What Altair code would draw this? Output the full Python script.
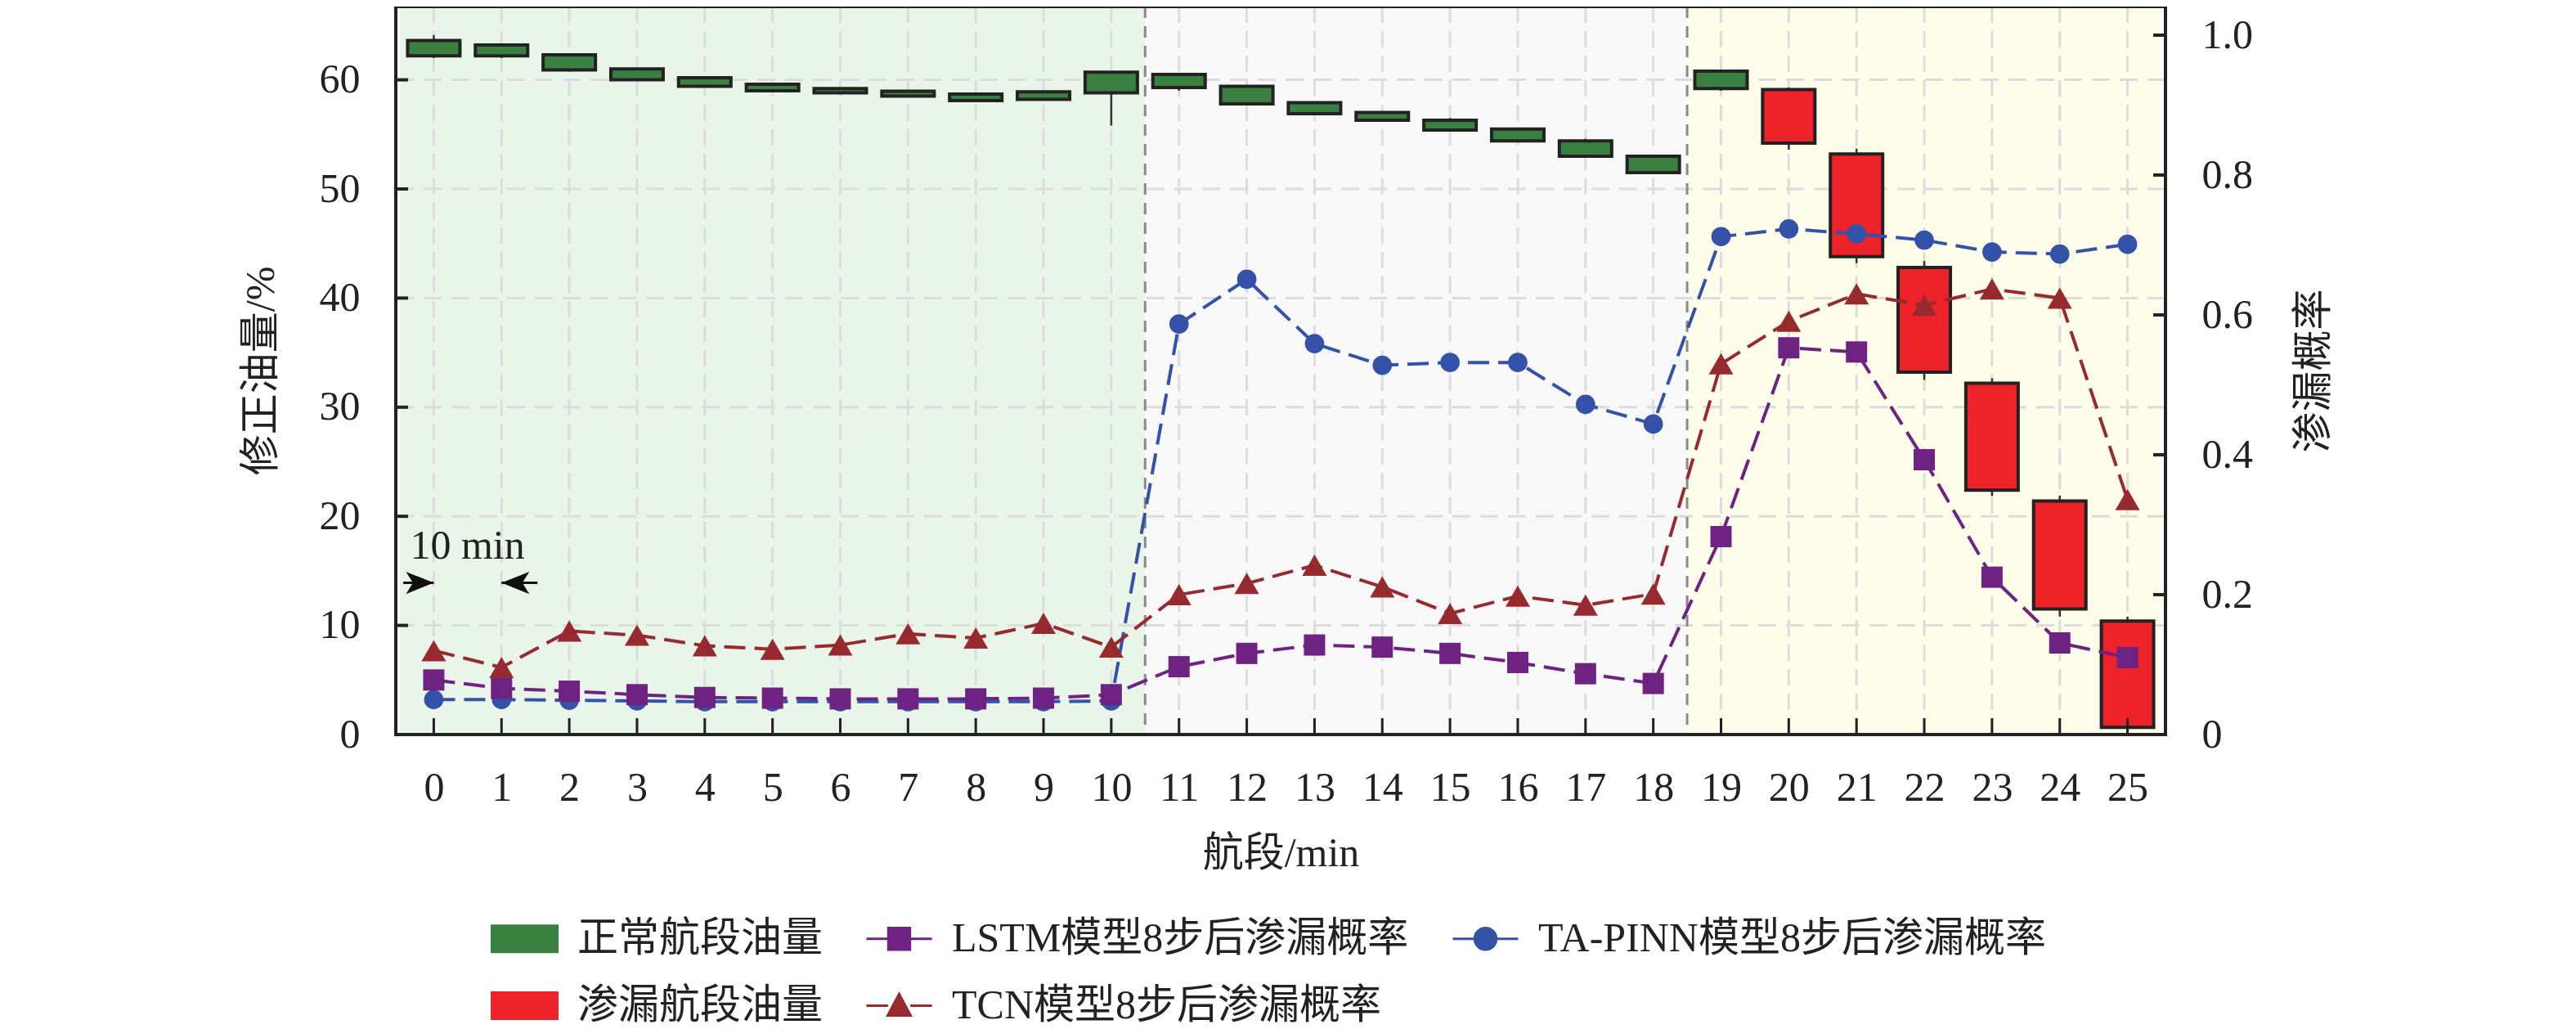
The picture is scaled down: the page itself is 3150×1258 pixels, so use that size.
import altair as alt
import pandas as pd

FONT = "Liberation Serif, Noto Sans CJK SC"
INK = "#222222"
W, H = 2164, 890

# ---- data ----
segments = list(range(26))
box_top = [63.6, 63.2, 62.3, 61.0, 60.2, 59.6, 59.2, 58.95, 58.7, 58.9, 60.7, 60.5, 59.4,
           57.9, 57.0, 56.3, 55.5, 54.4, 53.0, 60.8, 59.1, 53.2, 42.8, 32.2, 21.4, 10.4]
box_bottom = [62.2, 62.2, 60.9, 60.0, 59.4, 59.0, 58.8, 58.5, 58.1, 58.2, 58.8, 59.3, 57.8,
              56.9, 56.3, 55.4, 54.4, 53.0, 51.5, 59.2, 54.2, 43.8, 33.2, 22.4, 11.5, 0.65]
wick_high = [64.1, 63.2, 62.4, 61.0, 60.2, 59.6, 59.3, 59.05, 58.7, 59.0, 60.7, 60.5, 59.4,
             57.9, 57.1, 56.5, 55.6, 54.6, 53.1, 60.9, 59.3, 53.7, 43.4, 32.65, 21.9, 10.8]
wick_low = [62.0, 62.0, 60.75, 59.9, 59.3, 58.9, 58.8, 58.5, 58.1, 58.2, 55.8, 59.0, 57.7,
            56.8, 56.3, 55.4, 54.4, 52.9, 51.5, 59.0, 53.6, 43.2, 32.5, 21.85, 10.8, 0.0]
oil_type = ["正常航段油量"] * 20 + ["渗漏航段油量"] * 6

lstm = [0.078, 0.066, 0.062, 0.057, 0.053, 0.052, 0.051, 0.051, 0.051, 0.052, 0.057, 0.097, 0.116,
        0.128, 0.125, 0.116, 0.103, 0.087, 0.073, 0.283, 0.553, 0.547, 0.393, 0.225, 0.131, 0.110]
tcn = [0.120, 0.096, 0.148, 0.142, 0.127, 0.122, 0.128, 0.144, 0.138, 0.159, 0.125, 0.200, 0.216,
       0.242, 0.211, 0.173, 0.198, 0.185, 0.201, 0.530, 0.591, 0.630, 0.614, 0.637, 0.624, 0.336]
pinn = [0.050, 0.050, 0.049, 0.048, 0.047, 0.047, 0.047, 0.047, 0.047, 0.047, 0.048, 0.587, 0.651,
        0.559, 0.528, 0.532, 0.532, 0.472, 0.444, 0.712, 0.723, 0.716, 0.707, 0.690, 0.687, 0.701]

series_names = ["正常航段油量", "LSTM模型8步后渗漏概率", "TA-PINN模型8步后渗漏概率",
                "渗漏航段油量", "TCN模型8步后渗漏概率"]
series_colors = ["#3a8040", "#6e2382", "#3352a8", "#ee2229", "#962a2e"]
legend_shapes = [
    "M-1,-0.4L1,-0.4L1,0.4L-1,0.4Z",
    "M-1,0L-0.34,0M0.34,0L1,0M-0.33,-0.33L0.33,-0.33L0.33,0.33L-0.33,0.33Z",
    "M-1,0L-0.34,0M0.34,0L1,0M-0.33,0A0.33,0.33,0,1,0,0.33,0A0.33,0.33,0,1,0,-0.33,0Z",
    "M-1,-0.4L1,-0.4L1,0.4L-1,0.4Z",
    "M-1,0L-0.34,0M0.34,0L1,0M0,-0.36L0.35,0.3L-0.35,0.3Z",
]

region_start = [-0.5, 10.5, 18.5]
region_end = [10.5, 18.5, 25.5]
region_color = ["#e8f5e8", "#f8f8f8", "#fdfdea"]
boundaries = [10.5, 18.5]
left_ticks = [0, 10, 20, 30, 40, 50, 60]
right_ticks = [0, 0.2, 0.4, 0.6, 0.8, 1.0]

note_text = ["10 min"]
note_x, note_y = [-0.35], [16.1]
arrow_tip = [0, 1]
arrow_tail = [-0.45, 1.53]
arrow_y = [13.9, 13.9]

# ---- tables ----
candles = pd.DataFrame({"seg": segments, "top": box_top, "bottom": box_bottom,
                        "high": wick_high, "low": wick_low, "series": oil_type})
probs = pd.DataFrame({"seg": segments, "lstm": lstm, "tcn": tcn, "pinn": pinn})
regions = pd.DataFrame({"x0": region_start, "x1": region_end, "bg": region_color})
legend_rows = pd.DataFrame({"series": series_names, "seg": [0] * 5, "p": [-1] * 5})
arrows = pd.DataFrame({"tip": arrow_tip, "tail": arrow_tail, "y": arrow_y})

# ---- scales / axes ----
x_scale = alt.Scale(domain=[-0.5, 25.5], nice=False, zero=False)
yl_scale = alt.Scale(domain=[0, H / 13.34], nice=False)
yr_scale = alt.Scale(domain=[0, H / 855], nice=False)

x_axis = alt.Axis(values=segments, format="d", title="航段/min", labelPadding=40, titlePadding=30)
yl_axis = alt.Axis(values=left_ticks, title="修正油量/%", orient="left", labelPadding=44, titlePadding=46)
yr_axis = alt.Axis(values=right_ticks, title="渗漏概率", orient="right", labelPadding=44,
                   titlePadding=100, titleAngle=270,
                   labelExpr="datum.value == 0 ? '0' : format(datum.value, '.1f')")

fill_scale = alt.Scale(domain=series_names, range=series_colors)
shape_scale = alt.Scale(domain=series_names, range=legend_shapes)
legend = alt.Legend(title=None, orient="none", legendX=116, legendY=1098, columns=3,
                    direction="horizontal", symbolSize=6400, symbolStrokeWidth=3,
                    symbolOpacity=1, labelFont=FONT, labelFontSize=50, labelColor=INK,
                    labelOffset=23, columnPadding=47, rowPadding=15, labelLimit=0, padding=0)

X = alt.X("seg:Q", scale=x_scale, axis=x_axis)

# ---- left (oil) group ----
bg = alt.Chart(regions).mark_rect().encode(
    x=alt.X("x0:Q", scale=x_scale, axis=x_axis), x2="x1:Q",
    y=alt.value(0), y2=alt.value(H), color=alt.Color("bg:N", scale=None))
vgrid = alt.Chart(pd.DataFrame({"seg": segments})).mark_rule(
    color="#dcdcdc", strokeWidth=3, strokeDash=[20, 10]).encode(x=X)
hgrid = alt.Chart(pd.DataFrame({"v": left_ticks[1:]})).mark_rule(
    color="#dcdcdc", strokeWidth=3, strokeDash=[22, 12]).encode(
    y=alt.Y("v:Q", scale=yl_scale, axis=yl_axis))
bounds = alt.Chart(pd.DataFrame({"seg": boundaries})).mark_rule(
    color="#8a8a8a", strokeWidth=3, strokeDash=[14, 10]).encode(x=X)
wicks = alt.Chart(candles).mark_rule(color="#333333", strokeWidth=2.5).encode(
    x=X, y=alt.Y("low:Q", scale=yl_scale, axis=yl_axis), y2="high:Q")
boxes = alt.Chart(candles).mark_bar(size=64, stroke=INK, strokeWidth=4, opacity=1).encode(
    x=X, y=alt.Y("bottom:Q", scale=yl_scale, axis=yl_axis), y2="top:Q",
    fill=alt.Fill("series:N", scale=fill_scale, legend=legend))
note = alt.Chart(pd.DataFrame({"seg": note_x, "v": note_y, "t": note_text})).mark_text(
    align="left", baseline="alphabetic", font=FONT, fontSize=50, color=INK).encode(
    x=X, y=alt.Y("v:Q", scale=yl_scale, axis=yl_axis), text="t:N")
tails = alt.Chart(arrows).mark_rule(color="#111111", strokeWidth=3).encode(
    x=alt.X("tip:Q", scale=x_scale, axis=x_axis), x2="tail:Q",
    y=alt.Y("y:Q", scale=yl_scale, axis=yl_axis))
head_r = alt.Chart(arrows.iloc[[0]]).mark_point(
    shape="M0,0L-1,-0.4L-0.75,0L-1,0.4Z", size=4624, filled=True, opacity=1, color="#111111").encode(
    x=alt.X("tip:Q", scale=x_scale, axis=x_axis), y=alt.Y("y:Q", scale=yl_scale, axis=yl_axis))
head_l = alt.Chart(arrows.iloc[[1]]).mark_point(
    shape="M0,0L1,-0.4L0.75,0L1,0.4Z", size=4624, filled=True, opacity=1, color="#111111").encode(
    x=alt.X("tip:Q", scale=x_scale, axis=x_axis), y=alt.Y("y:Q", scale=yl_scale, axis=yl_axis))
lticks = alt.Chart(pd.DataFrame({"v": left_ticks})).mark_rule(color=INK, strokeWidth=4).encode(
    y=alt.Y("v:Q", scale=yl_scale, axis=yl_axis), x=alt.value(0), x2=alt.value(15))
bticks = alt.Chart(pd.DataFrame({"seg": segments})).mark_rule(color=INK, strokeWidth=3).encode(
    x=X, y=alt.value(H - 20), y2=alt.value(H))

left = alt.layer(bg, vgrid, hgrid, bounds, wicks, boxes, note, tails, head_r, head_l, lticks, bticks)


# ---- right (probability) group ----
def series(col, color, shape, size):
    y = alt.Y(f"{col}:Q", scale=yr_scale, axis=yr_axis)
    line = alt.Chart(probs).mark_line(color=color, strokeWidth=4, strokeDash=[26, 11]).encode(x=X, y=y)
    pts = alt.Chart(probs).mark_point(shape=shape, size=size, filled=True, opacity=1, color=color).encode(x=X, y=y)
    return [line, pts]


dummy = alt.Chart(legend_rows).mark_point(filled=True, opacity=1, clip=True, size=10).encode(
    x=X, y=alt.Y("p:Q", scale=yr_scale, axis=yr_axis),
    fill=alt.Fill("series:N", scale=fill_scale, legend=legend),
    stroke=alt.Stroke("series:N", scale=fill_scale, legend=legend),
    shape=alt.Shape("series:N", scale=shape_scale, legend=legend))
rticks = alt.Chart(pd.DataFrame({"p": right_ticks})).mark_rule(color=INK, strokeWidth=4).encode(
    y=alt.Y("p:Q", scale=yr_scale, axis=yr_axis), x=alt.value(W - 15), x2=alt.value(W))
frame = alt.Chart(pd.DataFrame({"p": [0]})).mark_rect(
    fillOpacity=0, stroke=INK, strokeWidth=4).encode(
    x=alt.value(0), x2=alt.value(W), y=alt.value(0), y2=alt.value(H))

right = alt.layer(
    *series("pinn", "#3352a8", "circle", 560),
    *series("tcn", "#962a2e", "triangle-up", 900),
    *series("lstm", "#6e2382", "square", 676),
    dummy, rticks, frame,
)

chart = alt.layer(left, right).resolve_scale(y="independent").properties(
    width=W, height=H,
    autosize=alt.AutoSizeParams(type="none"),
    padding={"left": 476, "top": 0, "right": 494, "bottom": 360},
).configure_axis(
    labelFont=FONT, titleFont=FONT, labelFontSize=50, titleFontSize=50,
    titleFontWeight="normal", labelColor=INK, titleColor=INK,
    domain=False, ticks=False, grid=False,
).configure_view(strokeWidth=0)

chart.save("out.html", embed_options={"renderer": "svg", "actions": False})
